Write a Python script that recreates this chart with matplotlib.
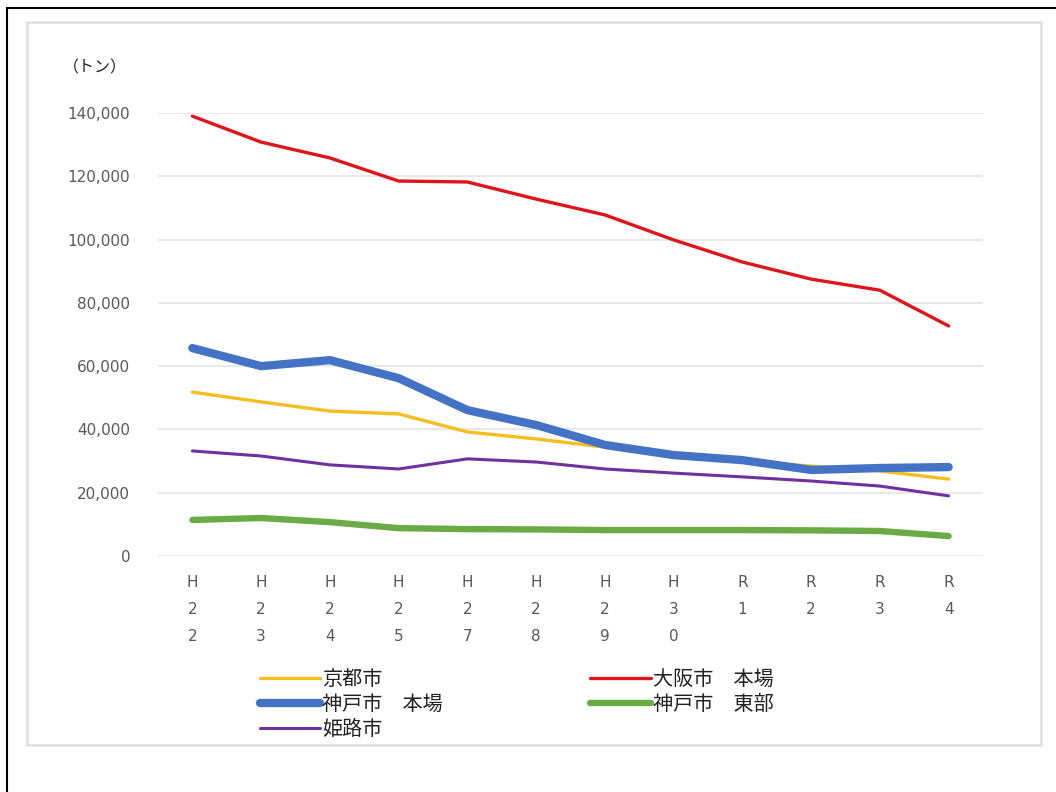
import matplotlib
import matplotlib.pyplot as plt
from matplotlib.patches import Rectangle
from matplotlib.lines import Line2D
from matplotlib.ticker import FuncFormatter

matplotlib.use("Agg")
plt.rcParams["font.family"] = ["Noto Sans CJK JP", "DejaVu Sans"]

# 年度ラベル
years = ["H22", "H23", "H24", "H25", "H27", "H28", "H29", "H30", "R1", "R2", "R3", "R4"]

kyoto = [51800, 48700, 45800, 44900, 39200, 37000, 34400, 31600, 30000, 28400, 26900, 24300]
osaka = [139000, 130800, 125800, 118500, 118200, 112800, 107800, 99900, 92900, 87500, 84000, 72700]
kobe_main = [65700, 60000, 61900, 56200, 46100, 41400, 35100, 31900, 30300, 27200, 27800, 28100]
kobe_east = [11400, 12000, 10700, 8800, 8500, 8400, 8200, 8200, 8200, 8100, 7900, 6300]
himeji = [33200, 31600, 28800, 27500, 30700, 29700, 27500, 26200, 25000, 23700, 22100, 19000]

names = ["京都市", "大阪市　本場", "神戸市　本場", "神戸市　東部", "姫路市"]
colors = ["#F5BE1E", "#E0141B", "#4472C4", "#6AAB45", "#7030A0"]
widths = [2.4, 2.4, 6.0, 4.6, 2.2]

fig = plt.figure(figsize=(10.56, 7.92), dpi=100)

# 外枠と内枠
fig.add_artist(Line2D([7 / 1056, 7 / 1056], [0, 1 - 8 / 792], transform=fig.transFigure, color="black", lw=1.5))
fig.add_artist(Line2D([7 / 1056, 1], [1 - 8 / 792, 1 - 8 / 792], transform=fig.transFigure, color="black", lw=1.5))
fig.add_artist(Rectangle((27 / 1056, 1 - 745 / 792), (1041 - 27) / 1056, (745 - 22) / 792,
                         transform=fig.transFigure, fill=False, edgecolor="#E0E0E0", lw=1.8))

ax = fig.add_axes([158 / 1056, 1 - 556 / 792, (983 - 158) / 1056, (556 - 113) / 792])
x = list(range(len(years)))
series = [kyoto, osaka, kobe_main, kobe_east, himeji]
handles = []
for vals, name, c, w in zip(series, names, colors, widths):
    (ln,) = ax.plot(x, vals, color=c, lw=w, solid_capstyle="round", solid_joinstyle="round", label=name)
    handles.append(ln)

ax.set_xlim(-0.5, len(years) - 0.5)
ax.set_ylim(0, 140000)
ax.set_yticks(range(0, 140001, 20000))
ax.yaxis.set_major_formatter(FuncFormatter(lambda v, p: f"{int(v):,}"))
ax.set_xticks(x)
ax.set_xticklabels(["\n".join(y) for y in years], linespacing=2.0)
ax.tick_params(axis="both", length=0, colors="#595959", labelsize=11)
for lab in ax.get_yticklabels() + ax.get_xticklabels():
    lab.set_family(["DejaVu Sans"])
ax.tick_params(axis="y", pad=20)
ax.tick_params(axis="x", pad=14)
ax.grid(axis="y", color="#E4E4E4", lw=1.2)
ax.set_axisbelow(True)
for s in ax.spines.values():
    s.set_visible(False)

fig.text(95 / 1056, 1 - 68 / 792, "（トン）", ha="center", va="center", fontsize=11.5, color="#222222")

order = [0, 2, 4, 1, 3]
fig.legend([handles[i] for i in order], [names[i] for i in order], ncol=2,
           loc="upper left", bbox_to_anchor=(250 / 1056, 1 - 659 / 792), frameon=False,
           fontsize=14.5, handlelength=3.0, handletextpad=0.1, columnspacing=7.3,
           labelspacing=0.2, borderpad=0, labelcolor="#222222")

fig.savefig("out.png", dpi=100)
